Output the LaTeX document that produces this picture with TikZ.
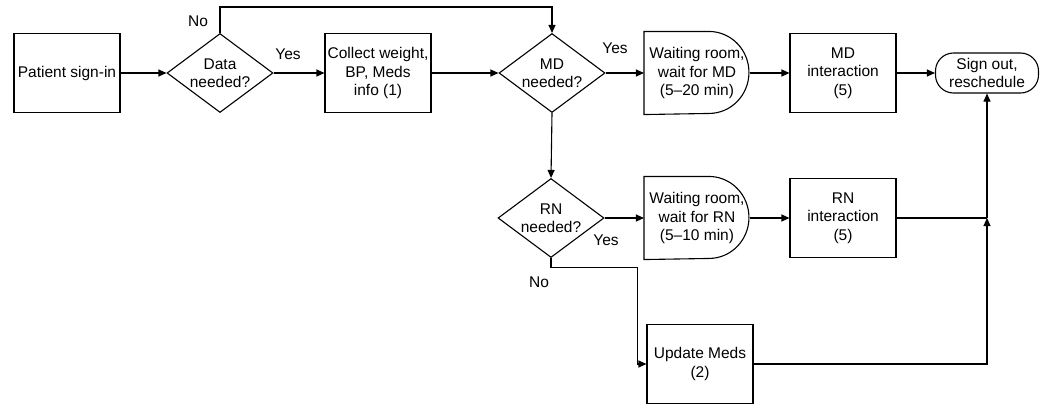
\documentclass[tikz,border=0pt]{standalone}
\usepackage{fontspec}
\setmainfont{Liberation Sans}
\usetikzlibrary{arrows.meta,shapes.geometric}
\begin{document}
\begin{tikzpicture}[x=1pt,y=-1pt,
  font=\fontsize{15.5}{18.5}\selectfont,
  line width=1.1pt,
  every node/.style={align=center},
  procbox/.style={draw, rectangle, minimum width=106pt, minimum height=79pt, inner sep=0pt},
  decision/.style={draw, diamond, aspect=1.34, minimum width=106pt, minimum height=79pt, inner sep=0pt},
  waitbox/.style={minimum width=105pt, minimum height=82pt, inner sep=0pt},
  terminal/.style={draw, rectangle, rounded corners=18pt, minimum width=103pt, minimum height=40pt, inner sep=0pt},
  arr/.style={-{Triangle[length=8pt,width=7pt]}},
  lbl/.style={inner sep=0pt}
]
\useasboundingbox (0,0) rectangle (1040,405);

% process steps
\node[procbox]  (ps)  at (67,73)   {Patient sign-in};
\node[decision] (dn)  at (220,73)  {Data\\needed?};
\node[procbox]  (col) at (378,73)  {Collect weight,\\BP, Meds\\info (1)};
\node[decision] (md)  at (552,73)  {MD\\needed?};
\node[waitbox]  (wmd) at (697,73)  {Waiting room,\\wait for MD\\(5–20 min)};
\node[procbox]  (mdi) at (843,73)  {MD\\interaction\\(5)};
\node[terminal] (so)  at (987,73)  {Sign out,\\reschedule};
\node[decision] (rn)  at (551,218) {RN\\needed?};
\node[waitbox]  (wrn) at (697,218) {Waiting room,\\wait for RN\\(5–10 min)};
\node[procbox]  (rni) at (843,218) {RN\\interaction\\(5)};
\node[procbox]  (upd) at (700,364) {Update Meds\\(2)};

% delay outlines for the waiting rooms
\foreach \w in {wmd,wrn}
  \draw (\w.north west) -- ++(65,0)
        arc[start angle=-90,end angle=90,x radius=40,y radius=41]
        -- (\w.south west) -- cycle;

% branch labels
\node[lbl] (lno1)  at (198,21)  {No};
\node[lbl] (lyes1) at (288,54)  {Yes};
\node[lbl] (lyes2) at (615,48)  {Yes};
\node[lbl] (lyes3) at (606,240) {Yes};
\node[lbl] (lno2)  at (539,282) {No};

% connectors
\coordinate (j) at (so.south |- rni.east);
\draw[arr] (ps) -- (dn);
\draw[arr] (dn) -- (col);
\draw[arr] (dn.north) -- ++(0,-26) -| (md.north);
\draw[arr] (col) -- (md);
\draw[arr] (md) -- (wmd);
\draw[arr] (wmd.east) -- (mdi);
\draw[arr] (mdi) -- (so);
\draw[arr] (md.south) -- (rn.north);
\draw[arr] (rn) -- (wrn);
\draw[arr] (wrn.east) -- (rni);
\draw (rni.east) -- (j);
\draw[arr] (rn.south) -- ++(0,9) -| ([xshift=-9pt]upd.west) -- (upd.west);
\draw[arr] (upd.east) -| (j);
\draw[arr] (j) -- (so.south);
\end{tikzpicture}
\end{document}
